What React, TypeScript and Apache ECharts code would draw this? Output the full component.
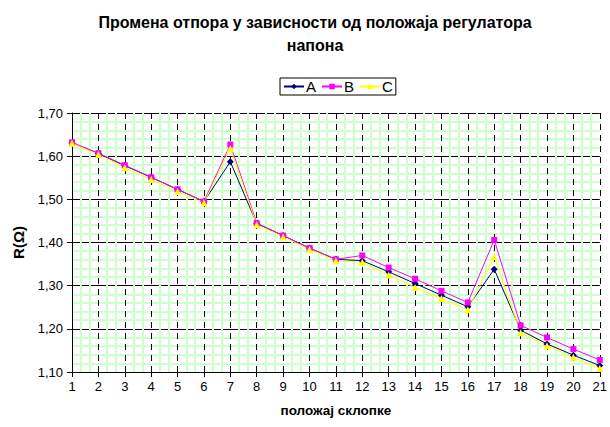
import React, { useEffect, useRef } from "react";
import * as echarts from "echarts";

const positions = [1, 2, 3, 4, 5, 6, 7, 8, 9, 10, 11, 12, 13, 14, 15, 16, 17, 18, 19, 20, 21];
const seriesA = [1.630, 1.606, 1.578, 1.551, 1.523, 1.495, 1.587, 1.444, 1.416, 1.387, 1.361, 1.358, 1.332, 1.305, 1.278, 1.251, 1.338, 1.197, 1.165, 1.139, 1.115];
const seriesB = [1.632, 1.607, 1.579, 1.551, 1.523, 1.495, 1.627, 1.445, 1.416, 1.387, 1.361, 1.370, 1.342, 1.316, 1.288, 1.261, 1.406, 1.208, 1.180, 1.153, 1.128];
const seriesC = [1.630, 1.604, 1.573, 1.546, 1.518, 1.492, 1.618, 1.441, 1.413, 1.384, 1.358, 1.354, 1.325, 1.296, 1.270, 1.244, 1.367, 1.191, 1.161, 1.134, 1.108];
const seriesNames = ["A", "B", "C"];
const yTicks = { min: 1.1, max: 1.7, interval: 0.1 };

const FONT = "Liberation Sans, Arial, sans-serif";

export default function App() {
  const ref = useRef<HTMLDivElement>(null);
  useEffect(() => {
    document.body.style.margin = "0";
    const chart = echarts.init(ref.current!, null, { renderer: "svg" });
    const pair = (arr: number[]) => positions.map((p, i) => [p, arr[i]]);
    const mk = (name: string, arr: number[], color: string, symbol: string, size: number) => ({
      name,
      type: "line",
      data: pair(arr),
      symbol,
      symbolSize: size,
      itemStyle: { color },
      lineStyle: { color, width: 1 },
    });
    chart.setOption({
      animation: false,
      backgroundColor: "#ffffff",
      title: {
        text: "Промена отпора у зависности од положаја регулатора\nнапона",
        left: 310,
        top: 6,
        textAlign: "center",
        textStyle: { fontFamily: FONT, fontSize: 16, fontWeight: "bold", color: "#000", lineHeight: 23 },
      },
      legend: {
        left: 280,
        top: 78,
        data: seriesNames,
        borderColor: "#000",
        borderWidth: 1,
        borderRadius: 0,
        padding: [1, 3],
        itemGap: 5,
        itemWidth: 20,
        itemHeight: 7,
        textStyle: { fontFamily: FONT, fontSize: 15, color: "#000", padding: [0, 0, 0, -3] },
      },
      grid: { left: 72, top: 113, width: 532, height: 259, containLabel: false },
      xAxis: {
        type: "value",
        min: 1,
        max: 21,
        interval: 1,
        name: "положај склопке",
        nameLocation: "middle",
        nameGap: 31,
        nameTextStyle: { fontFamily: FONT, fontSize: 13.5, fontWeight: "bold", color: "#000" },
        axisLine: { show: true, lineStyle: { color: "#000", width: 1 } },
        axisTick: { show: true, length: 5, lineStyle: { color: "#000" } },
        axisLabel: { fontFamily: FONT, fontSize: 13, color: "#000", margin: 8 },
        splitLine: { show: true, lineStyle: { color: "#000", type: [6, 5], width: 1 } },
        minorTick: { show: false, splitNumber: 3 },
        minorSplitLine: { show: true, lineStyle: { color: "#ccffcc", width: 2 } },
      },
      yAxis: {
        type: "value",
        min: yTicks.min,
        max: yTicks.max,
        interval: yTicks.interval,
        name: "R(Ω)",
        nameLocation: "middle",
        nameGap: 46,
        nameTextStyle: { fontFamily: FONT, fontSize: 15, fontWeight: "bold", color: "#000" },
        axisLine: { show: true, lineStyle: { color: "#000", width: 1 } },
        axisTick: { show: true, length: 5, lineStyle: { color: "#000" } },
        axisLabel: {
          fontFamily: FONT,
          fontSize: 13,
          color: "#000",
          margin: 9,
          formatter: (v: number) => v.toFixed(2).replace(".", ","),
        },
        splitLine: { show: true, lineStyle: { color: "#000", width: 1 } },
        minorTick: { show: false, splitNumber: 5 },
        minorSplitLine: { show: true, lineStyle: { color: "#ccffcc", width: 2 } },
      },
      series: [
        mk(seriesNames[0], seriesA, "#000080", "diamond", 7),
        mk(seriesNames[1], seriesB, "#ff00ff", "rect", 6),
        mk(seriesNames[2], seriesC, "#ffff00", "triangle", 7),
      ],
    });
    return () => chart.dispose();
  }, []);
  return <div ref={ref} style={{ width: 610, height: 427 }} />;
}
